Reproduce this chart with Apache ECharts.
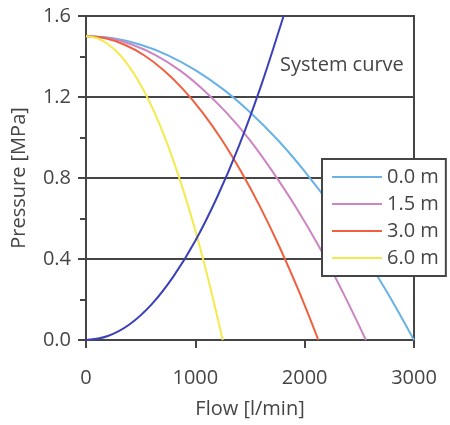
<!DOCTYPE html>
<html>
<head>
<meta charset="utf-8">
<script src="https://cdn.jsdelivr.net/npm/echarts@6/dist/echarts.min.js"></script>
<style>
    html, body { margin: 0; padding: 0; background: #fff; }
    #main { width: 450px; height: 425px; }
</style>
</head>
<body>
<div id="main"></div>
<script>
// values: [flow l/min, pressure MPa]
var seriesNames = ['0.0 m', '1.5 m', '3.0 m', '6.0 m'];
var pump00 = [[0,1.5],[250,1.49],[500,1.458],[750,1.406],[1000,1.333],[1250,1.24],[1500,1.125],[1750,0.99],[2000,0.833],[2250,0.656],[2500,0.458],[2750,0.24],[3000,0]];
var pump15 = [[0,1.5],[215,1.49],[425,1.458],[640,1.406],[855,1.333],[1065,1.24],[1280,1.125],[1495,0.99],[1705,0.833],[1920,0.656],[2135,0.458],[2345,0.24],[2560,0]];
var pump30 = [[0,1.5],[177,1.49],[354,1.458],[531,1.406],[708,1.333],[885,1.24],[1063,1.125],[1240,0.99],[1417,0.833],[1594,0.656],[1771,0.458],[1948,0.24],[2125,0]];
var pump60 = [[0,1.5],[104,1.49],[208,1.458],[313,1.406],[417,1.333],[521,1.24],[625,1.125],[729,0.99],[833,0.833],[938,0.656],[1042,0.458],[1146,0.24],[1250,0]];
var systemCurve = [[0,0],[200,0.02],[400,0.078],[600,0.176],[800,0.314],[1000,0.49],[1200,0.706],[1400,0.96],[1600,1.254],[1800,1.588],[1850,1.677]];
var xTicks = [0, 1000, 2000, 3000];
var yTicks = [0, 0.4, 0.8, 1.2, 1.6];

var colors = ['#68b2e6', '#cc85c2', '#f0603e', '#f3eb4e'];
var sysColor = '#3a40b8';
var ink = '#454545';
var font = 'Open Sans';
var fs = 20;

var myChart = echarts.init(document.getElementById('main'));

function curveSeries(name, data, color) {
    return {
        name: name,
        type: 'line',
        data: data,
        smooth: 0.4,
        symbol: 'none',
        clip: true,
        lineStyle: { color: color, width: 2 },
        itemStyle: { color: color }
    };
}

var option = {
    animation: false,
    textStyle: { fontFamily: font },
    grid: {
        left: 86, right: 36, top: 16, bottom: 85,
        show: true, borderColor: ink, borderWidth: 2, backgroundColor: 'transparent'
    },
    xAxis: {
        type: 'value',
        min: xTicks[0], max: xTicks[xTicks.length - 1], interval: 1000,
        name: 'Flow [l/min]', nameLocation: 'middle', nameGap: 59,
        nameTextStyle: { color: ink, fontSize: fs, fontFamily: font },
        axisLine: { show: true, lineStyle: { color: ink, width: 2 } },
        axisTick: { show: true, length: 8, lineStyle: { color: ink, width: 2 } },
        axisLabel: {
            color: ink, fontSize: fs, margin: 28, fontFamily: font,
            formatter: function (v) { return String(v); }
        },
        splitLine: { show: false }
    },
    yAxis: {
        type: 'value',
        min: yTicks[0], max: yTicks[yTicks.length - 1], interval: 0.4,
        name: 'Pressure [MPa]', nameLocation: 'middle', nameGap: 57,
        nameTextStyle: { color: ink, fontSize: fs, fontFamily: font },
        axisLine: { show: true, lineStyle: { color: ink, width: 2 } },
        axisTick: { show: true, length: 8, lineStyle: { color: ink, width: 2 } },
        minorTick: { show: true, splitNumber: 2, length: 6, lineStyle: { color: ink, width: 2 } },
        axisLabel: {
            color: ink, fontSize: fs, margin: 15, fontFamily: font,
            formatter: function (v) { return v.toFixed(1); }
        },
        splitLine: { show: true, lineStyle: { color: ink, width: 2 } }
    },
    legend: {
        data: seriesNames,
        orient: 'vertical',
        left: 322, top: 159,
        backgroundColor: '#fff',
        borderColor: ink, borderWidth: 2, borderRadius: 0,
        padding: [8, 7, 8, 10],
        itemGap: 7,
        itemWidth: 50, itemHeight: 2,
        icon: 'rect',
        textStyle: { color: ink, fontSize: fs, fontFamily: font }
    },
    graphic: [{
        type: 'text',
        left: 280, top: 55,
        style: { text: 'System curve', fill: ink, font: fs + 'px "Open Sans"' }
    }],
    series: [
        curveSeries(seriesNames[0], pump00, colors[0]),
        curveSeries(seriesNames[1], pump15, colors[1]),
        curveSeries(seriesNames[2], pump30, colors[2]),
        curveSeries(seriesNames[3], pump60, colors[3]),
        curveSeries('System curve', systemCurve, sysColor)
    ]
};
myChart.setOption(option);
</script>
</body>
</html>
